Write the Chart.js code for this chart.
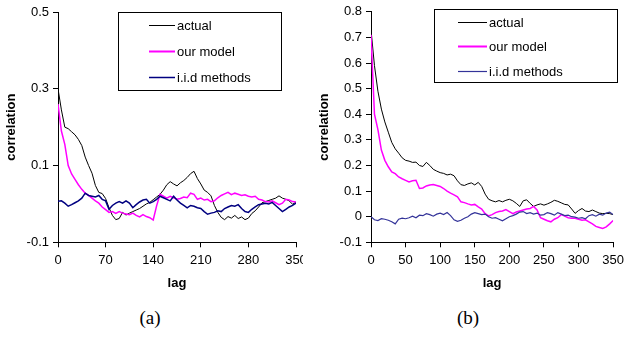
<!DOCTYPE html>
<html>
<head>
<meta charset="utf-8">
<script src="https://cdn.jsdelivr.net/npm/chart.js@4.4.1/dist/chart.umd.min.js"></script>
<style>
  body { margin: 0; background: #fff; }
  #page { position: relative; width: 629px; height: 337px; overflow: hidden; background: #fff; }
  .wrap { position: absolute; top: 0; overflow: hidden; height: 300px; }
  .cap { position: absolute; top: 307px; font-family: 'Liberation Serif', 'Times New Roman', serif; font-size: 19px; line-height: 22px; transform: translateX(-50%); color: #000; }
</style>
</head>
<body>
<div id="page">
  <div class="wrap" style="left:0;width:303px"><canvas id="chartA" width="320" height="300"></canvas></div>
  <div class="wrap" style="left:310px;width:319px"><canvas id="chartB" width="319" height="300"></canvas></div>
  <div class="cap" style="left:150px">(a)</div>
  <div class="cap" style="left:468px">(b)</div>
</div>
<script>
'use strict';

// lag values shared by both panels (every 5 lags)
let lags = [];
for (let l = 0; l <= 350; l += 5) lags.push(l);

let seriesNames = ['actual', 'our model', 'i.i.d methods'];

// panel (a)
let actualA = [
  0.300, 0.245, 0.200, 0.196, 0.188, 0.180, 0.168, 0.152, 0.122, 0.100,
  0.080, 0.048, 0.030, 0.027, 0.014, -0.010, -0.030, -0.041, -0.038, -0.022,
  -0.029, -0.024, -0.020, -0.016, -0.012, -0.006, 0.000, 0.004, 0.011, 0.018,
  0.025, 0.036, 0.050, 0.058, 0.052, 0.047, 0.055, 0.061, 0.069, 0.079,
  0.085, 0.066, 0.052, 0.036, 0.030, 0.021, -0.004, -0.022, -0.035, -0.041,
  -0.033, -0.037, -0.030, -0.038, -0.034, -0.041, -0.037, -0.025, -0.018, -0.008,
  0.003, 0.006, 0.009, 0.012, 0.015, 0.021, 0.015, 0.012, 0.008, -0.001,
  0.005
];
let modelA = [
  0.260, 0.190, 0.155, 0.100, 0.078, 0.064, 0.050, 0.038, 0.028, 0.022,
  0.015, 0.008, 0.002, -0.008, -0.015, -0.022, -0.020, -0.025, -0.020, -0.024,
  -0.026, -0.028, -0.024, -0.030, -0.034, -0.028, -0.033, -0.036, -0.042, -0.005,
  0.025, 0.020, 0.015, 0.020, 0.016, 0.012, 0.014, 0.018, 0.016, 0.028,
  0.025, 0.012, 0.015, 0.010, 0.012, 0.006, 0.008, 0.016, 0.022, 0.026,
  0.030, 0.024, 0.028, 0.025, 0.022, 0.024, 0.020, 0.018, 0.020, 0.012,
  0.010, 0.006, 0.005, 0.008, 0.003, -0.002, 0.002, 0.012, 0.010, 0.006,
  0.005
];
let iidA = [
  0.007, 0.008, 0.002, -0.006, -0.002, 0.003, 0.008, 0.015, 0.028, 0.022,
  0.020, 0.018, 0.022, 0.012, 0.008, -0.014, -0.004, 0.002, 0.006, 0.002,
  0.008, 0.002, -0.010, -0.002, 0.005, 0.010, 0.012, 0.002, 0.006, 0.012,
  0.020, 0.016, 0.012, 0.008, 0.020, 0.010, 0.002, -0.004, -0.010, -0.004,
  -0.006, -0.010, -0.012, -0.020, -0.027, -0.024, -0.022, -0.018, -0.020, -0.012,
  -0.008, -0.004, -0.006, -0.002, -0.012, -0.020, -0.022, -0.014, -0.008, -0.002,
  0.000, 0.002, 0.000, 0.004, -0.004, -0.012, -0.020, -0.014, -0.008, -0.004,
  0.002
];
let xTicksA = [0, 70, 140, 210, 280, 350];
let yTicksA = [-0.1, 0.1, 0.3, 0.5];

// panel (b)
let actualB = [
  0.730, 0.590, 0.490, 0.420, 0.370, 0.330, 0.290, 0.265, 0.248, 0.230,
  0.220, 0.217, 0.212, 0.213, 0.200, 0.196, 0.212, 0.200, 0.185, 0.178,
  0.172, 0.169, 0.163, 0.166, 0.160, 0.140, 0.125, 0.122, 0.128, 0.132,
  0.124, 0.134, 0.118, 0.088, 0.068, 0.062, 0.058, 0.063, 0.058, 0.064,
  0.068, 0.062, 0.052, 0.040, 0.062, 0.066, 0.052, 0.040, 0.046, 0.050,
  0.045, 0.050, 0.056, 0.064, 0.060, 0.054, 0.048, 0.046, 0.030, 0.013,
  0.024, 0.032, 0.022, 0.020, 0.026, 0.020, 0.014, 0.012, 0.013, 0.012,
  0.008
];
let modelB = [
  0.710, 0.400, 0.340, 0.260, 0.220, 0.195, 0.175, 0.168, 0.155, 0.148,
  0.142, 0.136, 0.140, 0.142, 0.110, 0.112, 0.120, 0.124, 0.126, 0.122,
  0.118, 0.110, 0.100, 0.092, 0.085, 0.078, 0.058, 0.055, 0.050, 0.046,
  0.048, 0.038, 0.030, 0.012, 0.003, 0.008, 0.016, 0.020, 0.022, 0.028,
  0.020, 0.012, 0.018, 0.022, 0.026, 0.030, 0.032, 0.040, 0.026, -0.004,
  -0.010, -0.016, -0.020, -0.010, -0.004, 0.008, 0.002, -0.004, -0.006, -0.006,
  -0.010, -0.014, -0.012, -0.020, -0.028, -0.038, -0.042, -0.046, -0.040, -0.028,
  -0.015
];
let iidB = [
  0.000, -0.012, -0.015, -0.008, -0.010, -0.014, -0.020, -0.028, -0.010, -0.006,
  -0.008, -0.004, 0.002, -0.004, 0.006, 0.004, 0.012, 0.008, 0.002, 0.010,
  0.014, 0.008, 0.016, 0.004, -0.012, -0.018, -0.014, -0.006, 0.000, 0.010,
  0.016, 0.012, 0.008, 0.010, 0.000, -0.006, -0.004, -0.010, -0.016, -0.008,
  0.000, 0.004, 0.010, 0.018, 0.020, 0.012, 0.016, 0.010, 0.014, 0.006,
  0.008, 0.016, 0.012, 0.006, 0.016, 0.010, 0.004, 0.006, 0.000, -0.002,
  -0.006, -0.004, -0.008, 0.004, 0.008, 0.002, 0.010, 0.006, 0.014, 0.018,
  0.008
];
let xTicksB = [0, 50, 100, 150, 200, 250, 300, 350];
let yTicksB = [-0.1, 0, 0.1, 0.2, 0.3, 0.4, 0.5, 0.6, 0.7, 0.8];

const sans = "'Liberation Sans', Arial, sans-serif";

// boxed legend in the upper right of the plot
const boxLegend = {
  id: 'boxLegend',
  afterDraw(chart, args, o) {
    let ctx = chart.ctx;
    ctx.save();
    ctx.fillStyle = '#fff';
    ctx.fillRect(o.x, o.y, o.w, o.h);
    ctx.strokeStyle = '#000';
    ctx.lineWidth = 1;
    ctx.strokeRect(o.x + 0.5, o.y + 0.5, o.w, o.h);
    ctx.font = '13px ' + sans;
    ctx.textBaseline = 'middle';
    chart.data.datasets.forEach((ds, i) => {
      let y = Math.round(o.rowY + i * o.rowGap);
      ctx.strokeStyle = ds.borderColor;
      ctx.lineWidth = o.lineWidths[i];
      ctx.beginPath();
      ctx.moveTo(o.lineX, y + 0.5);
      ctx.lineTo(o.lineX + o.lineW, y + 0.5);
      ctx.stroke();
      ctx.fillStyle = '#000';
      ctx.fillText(ds.label, o.lineX + o.lineW + 2, y + 1);
    });
    ctx.restore();
  }
};

function toPoints(arr) {
  return lags.map((l, i) => ({x: l, y: arr[i]}));
}

function makeChart(id, cfg) {
  let ctx = document.getElementById(id);
  return new Chart(ctx, {
    type: 'line',
    data: {
      datasets: [{
        label: seriesNames[0],
        data: toPoints(cfg.actual),
        borderColor: '#000000',
        borderWidth: 1,
        order: 3
      }, {
        label: seriesNames[1],
        data: toPoints(cfg.model),
        borderColor: '#ff00ff',
        borderWidth: 1.5,
        order: 2
      }, {
        label: seriesNames[2],
        data: toPoints(cfg.iid),
        borderColor: cfg.iidColor,
        borderWidth: cfg.iidWidth,
        order: 1
      }]
    },
    options: {
      responsive: false,
      animation: false,
      devicePixelRatio: 1,
      layout: { padding: cfg.padding },
      elements: { point: { radius: 0 }, line: { tension: 0 } },
      plugins: {
        legend: { display: false },
        tooltip: { enabled: false },
        boxLegend: cfg.legend
      },
      scales: {
        x: {
          type: 'linear',
          min: 0,
          max: 350,
          afterBuildTicks: s => { s.ticks = cfg.xTicks.map(v => ({value: v})); },
          afterFit: s => { s.height = 57.7; },
          ticks: { color: '#000', font: { family: sans, size: 13 }, padding: 5, maxRotation: 0, autoSkip: false },
          grid: { drawOnChartArea: false, color: '#000', tickColor: '#000', tickLength: 5 },
          border: { color: '#000', width: 1 },
          title: { display: true, text: 'lag', color: '#000', font: { family: sans, size: 13, weight: 'bold' }, padding: { top: 0, bottom: 9 } }
        },
        y: {
          type: 'linear',
          min: cfg.yTicks[0],
          max: cfg.yTicks[cfg.yTicks.length - 1],
          afterBuildTicks: s => { s.ticks = cfg.yTicks.map(v => ({value: v})); },
          afterFit: s => { s.width = cfg.yWidth; },
          ticks: { color: '#000', font: { family: sans, size: 13 }, padding: 4, callback: v => String(v) },
          grid: { drawOnChartArea: false, color: '#000', tickColor: '#000', tickLength: 5 },
          border: { color: '#000', width: 1 },
          title: { display: true, text: 'correlation', color: '#000', font: { family: sans, size: 13, weight: 'bold' }, padding: { top: cfg.yTitlePad, bottom: 0 } }
        }
      }
    },
    plugins: [boxLegend]
  });
}

makeChart('chartA', {
  actual: actualA, model: modelA, iid: iidA,
  iidColor: '#000080', iidWidth: 1.5,
  xTicks: xTicksA, yTicks: yTicksA,
  yWidth: 58, yTitlePad: 4,
  padding: { left: 0, right: 24, top: 12, bottom: 0 },
  legend: { x: 118, y: 12, w: 163, h: 78, lineX: 149, lineW: 26, rowY: 25, rowGap: 26, lineWidths: [1, 2, 1.5] }
});

makeChart('chartB', {
  actual: actualB, model: modelB, iid: iidB,
  iidColor: '#333399', iidWidth: 1.2,
  xTicks: xTicksB, yTicks: yTicksB,
  yWidth: 61, yTitlePad: 7,
  padding: { left: 0, right: 12.3, top: 11, bottom: 0 },
  legend: { x: 124, y: 9, w: 183, h: 73, lineX: 148, lineW: 29, rowY: 21.7, rowGap: 24.5, lineWidths: [1, 2, 1.2] }
});
</script>
</body>
</html>
